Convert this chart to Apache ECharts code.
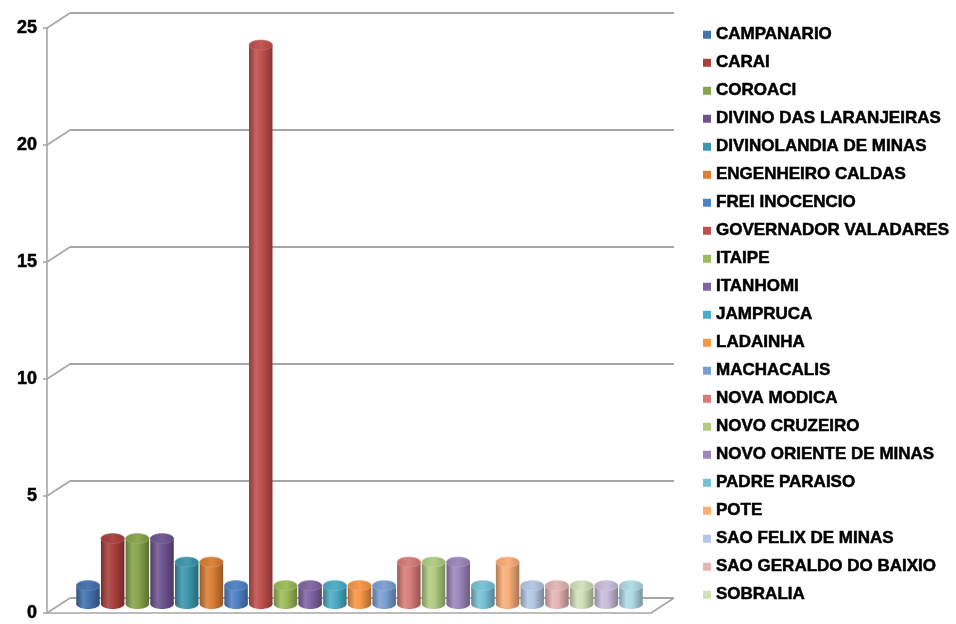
<!DOCTYPE html>
<html>
<head>
<meta charset="utf-8">
<script src="https://cdn.jsdelivr.net/npm/echarts@6/dist/echarts.min.js"></script>
<style>
  html, body { margin: 0; padding: 0; background: #ffffff; }
  #chart { width: 956px; height: 624px; }
</style>
</head>
<body>
<div id="chart"></div>
<script>
// ---- data ----
const categories = [
  'CAMPANARIO', 'CARAI', 'COROACI', 'DIVINO DAS LARANJEIRAS', 'DIVINOLANDIA DE MINAS',
  'ENGENHEIRO CALDAS', 'FREI INOCENCIO', 'GOVERNADOR VALADARES', 'ITAIPE', 'ITANHOMI',
  'JAMPRUCA', 'LADAINHA', 'MACHACALIS', 'NOVA MODICA', 'NOVO CRUZEIRO',
  'NOVO ORIENTE DE MINAS', 'PADRE PARAISO', 'POTE', 'SAO FELIX DE MINAS',
  'SAO GERALDO DO BAIXIO', 'SOBRALIA', '(22)', '(23)'
];
const values = [1, 3, 3, 3, 2, 2, 1, 24, 1, 1, 1, 1, 1, 2, 2, 2, 1, 2, 1, 1, 1, 1, 1];
const legendNames = categories.slice(0, 21);
const colors = [
  '#4372AE', '#A8403D', '#86A44A', '#6E5490', '#3D97AE', '#DA7F35',
  '#4F81C5', '#C0504D', '#9BBB59', '#8064A2', '#4BACC6', '#F79646',
  '#7C9FD3', '#D67D7A', '#B0CC81', '#9D86BD', '#77C1D6', '#F9AE78',
  '#B3C7E4', '#E4B5B4', '#D2E1B9', '#C9BEDB', '#B0DBE6'
];
const yTicks = [0, 5, 10, 15, 20, 25];

// ---- helpers ----
function shade(hex, amt) {
  const n = parseInt(hex.slice(1), 16);
  let r = (n >> 16) & 255, g = (n >> 8) & 255, b = n & 255;
  if (amt >= 0) {
    r = r + (255 - r) * amt; g = g + (255 - g) * amt; b = b + (255 - b) * amt;
  } else {
    r = r * (1 + amt); g = g * (1 + amt); b = b * (1 + amt);
  }
  return 'rgb(' + Math.round(r) + ',' + Math.round(g) + ',' + Math.round(b) + ')';
}
function bodyGrad(c) {
  return {
    type: 'linear', x: 0, y: 0, x2: 1, y2: 0,
    colorStops: [
      { offset: 0, color: shade(c, -0.28) },
      { offset: 0.3, color: shade(c, 0.12) },
      { offset: 0.55, color: c },
      { offset: 1, color: shade(c, -0.32) }
    ]
  };
}
function topGrad(c) {
  return {
    type: 'linear', x: 0, y: 0, x2: 1, y2: 0,
    colorStops: [
      { offset: 0, color: shade(c, -0.1) },
      { offset: 0.5, color: shade(c, 0.05) },
      { offset: 1, color: shade(c, -0.15) }
    ]
  };
}

const RY = 5;
function cylinder(params, api) {
  const idx = api.value(0), v = api.value(1);
  const top = api.coord([idx, v]);
  const base = api.coord([idx, 0]);
  const w = api.size([1, 0])[0] * 0.95;
  const rx = w / 2;
  const c = api.visual('color');
  const baseCy = base[1] - RY;
  return {
    type: 'group',
    children: [
      { type: 'ellipse', shape: { cx: base[0], cy: baseCy, rx: rx, ry: RY }, style: { fill: bodyGrad(c) } },
      { type: 'rect', shape: { x: base[0] - rx, y: top[1], width: w, height: baseCy - top[1] }, style: { fill: bodyGrad(c) } },
      { type: 'ellipse', shape: { cx: top[0], cy: top[1], rx: rx, ry: RY }, style: { fill: topGrad(c), stroke: shade(c, 0.2), lineWidth: 0.6 } }
    ]
  };
}

const DX = -23, DY = 15;
const lineColor = '#a6a6a6';
function wallLinks(params, api) {
  const v = api.value(0);
  const children = [];
  const back = api.coord([0, v]);
  children.push({ type: 'line', shape: { x1: back[0], y1: back[1], x2: back[0] + DX, y2: back[1] + DY }, style: { stroke: lineColor, lineWidth: 1.6 } });
  if (v === 0) {
    const backR = api.coord([1, 0]);
    children.push({ type: 'line', shape: { x1: backR[0], y1: backR[1], x2: backR[0] + DX, y2: backR[1] + DY }, style: { stroke: lineColor, lineWidth: 1.6 } });
  }
  return { type: 'group', children: children };
}

const series = categories.map((name, i) => ({
  type: 'custom',
  name: name,
  xAxisIndex: 0,
  yAxisIndex: 0,
  z: 10,
  itemStyle: { color: colors[i] },
  data: [[i, values[i]]],
  renderItem: cylinder,
  silent: true
}));
series.push({
  type: 'custom',
  name: 'walls',
  xAxisIndex: 2,
  yAxisIndex: 2,
  z: 1,
  data: yTicks.map(t => [t]),
  encode: { y: 0 },
  renderItem: wallLinks,
  silent: true
});

const chart = echarts.init(document.getElementById('chart'), null, { renderer: 'canvas' });
chart.setOption({
  animation: false,
  backgroundColor: '#ffffff',
  grid: [
    { left: 75.65, right: 312.65, top: 21.5, bottom: 15 },   // bars
    { left: 47, right: 305, top: 28, bottom: 11 },           // front axis
    { left: 70, right: 282, top: 13, bottom: 26 }            // back wall
  ],
  xAxis: [
    { gridIndex: 0, type: 'category', data: categories, show: false, boundaryGap: true },
    { gridIndex: 1, type: 'value', min: 0, max: 1, axisLabel: { show: false }, axisTick: { show: false }, splitLine: { show: false },
      axisLine: { show: true, lineStyle: { color: lineColor, width: 1.6 } } },
    { gridIndex: 2, type: 'value', min: 0, max: 1, show: false }
  ],
  yAxis: [
    { gridIndex: 0, type: 'value', min: 0, max: 25, interval: 5, show: false },
    { gridIndex: 1, type: 'value', min: 0, max: 25, interval: 5,
      axisLine: { show: true, lineStyle: { color: lineColor, width: 1.6 } },
      axisTick: { show: true, length: 4, lineStyle: { color: lineColor, width: 1.6 } },
      splitLine: { show: false },
      axisLabel: { margin: 10, color: '#000', fontFamily: 'Liberation Sans', fontWeight: 'bold', fontSize: 18,
        textBorderColor: '#000', textBorderWidth: 0.5 } },
    { gridIndex: 2, type: 'value', min: 0, max: 25, interval: 5,
      axisLine: { show: false }, axisTick: { show: false }, axisLabel: { show: false },
      splitLine: { show: true, lineStyle: { color: lineColor, width: 1.8 } } }
  ],
  legend: {
    data: legendNames,
    orient: 'vertical',
    left: 698,
    top: 21,
    padding: 5,
    icon: 'rect',
    itemWidth: 8,
    itemHeight: 8,
    itemGap: 10.5,
    height: 610,
    selectedMode: false,
    textStyle: { color: '#000', fontFamily: 'Liberation Sans', fontWeight: 'bold', fontSize: 17, lineHeight: 15,
      textBorderColor: '#000', textBorderWidth: 0.5, padding: [0, 0, 0, 0] }
  },
  series: series
});
</script>
</body>
</html>
